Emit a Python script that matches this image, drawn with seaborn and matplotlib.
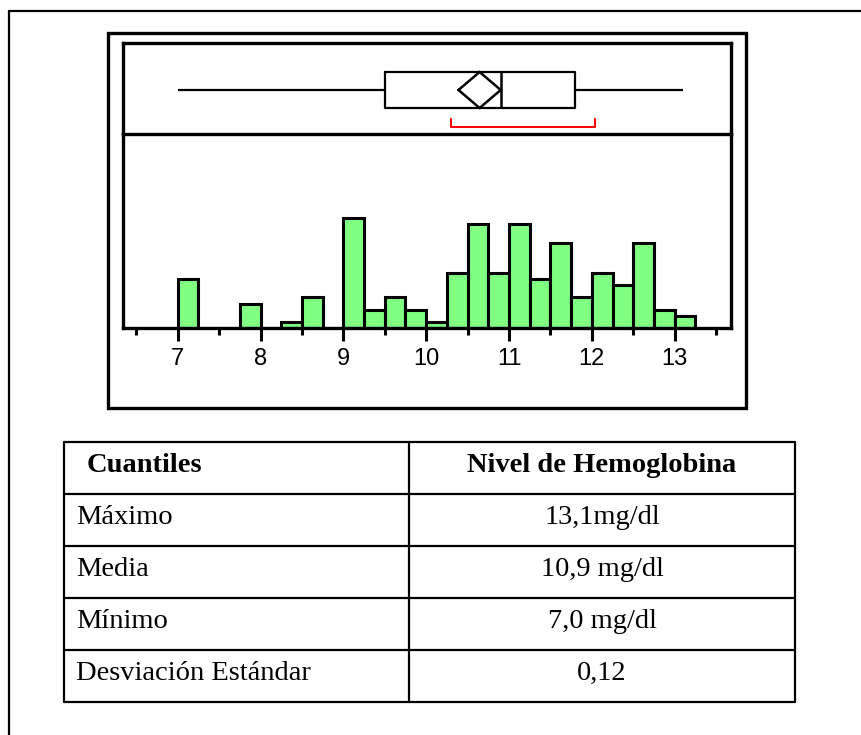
import numpy as np
import pandas as pd
import matplotlib
matplotlib.use("Agg")
import matplotlib.pyplot as plt
import seaborn as sns
from matplotlib.lines import Line2D
from matplotlib.patches import Rectangle

# ---------------- data ----------------
bin_starts = [7.0, 7.25, 7.5, 7.75, 8.0, 8.25, 8.5, 8.75, 9.0, 9.25, 9.5, 9.75, 10.0,
              10.25, 10.5, 10.75, 11.0, 11.25, 11.5, 11.75, 12.0, 12.25, 12.5, 12.75, 13.0]
bin_counts = [8, 0, 0, 4, 0, 1, 5, 0, 18, 3, 5, 3, 1, 9, 17, 9, 17, 8, 14, 5, 9, 7, 14, 3, 2]
bin_width = 0.25
five_number = [7.0, 9.5, 10.9, 11.8, 13.1]      # min, Q1, median, Q3, max
mean_ci = [10.39, 10.90]                         # mean diamond extent
shortest_half = [10.30, 12.04]                   # red bracket
major_ticks = [7, 8, 9, 10, 11, 12, 13]
minor_ticks = [6.5, 7.5, 8.5, 9.5, 10.5, 11.5, 12.5, 13.5]

table_header = ["Cuantiles", "Nivel de Hemoglobina"]
table_rows = ["Máximo", "Media", "Mínimo", "Desviación Estándar"]
table_values = ["13,1mg/dl", "10,9 mg/dl", "7,0 mg/dl", "0,12"]

# ---------------- figure ----------------
sns.set_style("white")
plt.rcParams["font.family"] = ["Liberation Sans", "DejaVu Sans"]
plt.rcParams["text.color"] = "black"
plt.rcParams["xtick.color"] = "black"
plt.rcParams["xtick.labelcolor"] = "black"

W, H = 861, 735
fig = plt.figure(figsize=(W / 100, H / 100), dpi=100)
fig.patch.set_facecolor("white")


def fx(x):
    return x / W


def fy(y):
    return 1 - y / H


# page frame (top + left)
fig.add_artist(Line2D([fx(9), fx(861)], [fy(11), fy(11)], color="black", lw=1.6))
fig.add_artist(Line2D([fx(9), fx(9)], [fy(11), fy(735)], color="black", lw=1.6))

# chart frame
fig.add_artist(Rectangle((fx(108), fy(408)), fx(746) - fx(108), fy(33) - fy(408),
                         fill=False, edgecolor="black", lw=2.4))

L, R = 123, 731
TOP, SEP, BASE = 43, 134, 328
ax_hist = fig.add_axes([fx(L), fy(BASE), fx(R) - fx(L), fy(SEP) - fy(BASE)])
ax_box = fig.add_axes([fx(L), fy(SEP), fx(R) - fx(L), fy(TOP) - fy(SEP)])
ax_box.patch.set_alpha(0)

# histogram
hist_df = pd.DataFrame({"value": [b + bin_width / 2 for b in bin_starts],
                        "count": bin_counts})
edges = bin_starts + [bin_starts[-1] + bin_width]
sns.histplot(data=hist_df, x="value", weights="count", bins=edges, ax=ax_hist,
             color="#80FF80", edgecolor="black", linewidth=2.2, alpha=1)
ax_hist.set_ylim(0, 31.8)
ax_hist.set_ylabel("")
ax_hist.set_yticks([])
for s in ["left", "right", "bottom"]:
    ax_hist.spines[s].set_visible(True)
    ax_hist.spines[s].set_linewidth(2.4)
    ax_hist.spines[s].set_color("black")
ax_hist.spines["top"].set_visible(False)

ax_hist.set_xlim(6.34, 13.68)
ax_hist.set_xticks(major_ticks)
ax_hist.set_xticklabels([str(t) for t in major_ticks])
ax_hist.set_xticks(minor_ticks, minor=True)
ax_hist.tick_params(axis="x", which="major", direction="out", length=9.5, width=2.2,
                    color="black", labelcolor="black", labelsize=17, pad=5, bottom=True)
ax_hist.tick_params(axis="x", which="minor", direction="out", length=5, width=2.2,
                    color="black", bottom=True)
ax_hist.set_xlabel("")

# box plot
sns.boxplot(x=five_number, ax=ax_box, whis=(0, 100), width=0.4, fill=False,
            color="black", linewidth=1.6, showcaps=False,
            boxprops=dict(color="black"), whiskerprops=dict(color="black"),
            medianprops=dict(color="black", linewidth=1.8))
m = (mean_ci[0] + mean_ci[1]) / 2
ax_box.plot([mean_ci[0], m, mean_ci[1], m, mean_ci[0]], [0, -0.2, 0, 0.2, 0],
            color="black", lw=1.8, solid_joinstyle="miter")
ax_box.plot([shortest_half[0], shortest_half[0], shortest_half[1], shortest_half[1]],
            [0.32, 0.41, 0.41, 0.32], color="#FF0000", lw=1.5)
ax_box.set_ylim(0.489, -0.522)
ax_box.set_xticks([])
ax_box.set_yticks([])
ax_box.set_xlabel("")
ax_box.set_ylabel("")
for s in ax_box.spines.values():
    s.set_visible(True)
    s.set_linewidth(2.4)
    s.set_color("black")
ax_box.tick_params(axis="x", which="both", bottom=False, labelbottom=False)
ax_box.set_xlim(6.34, 13.68)

# ---------------- table ----------------
tl, tdiv, tr = 64, 409, 795
rows_y = [442, 494, 546, 598, 650, 702]
lw_t = 1.6
for y in rows_y:
    fig.add_artist(Line2D([fx(tl), fx(tr)], [fy(y), fy(y)], color="black", lw=lw_t))
for x in [tl, tdiv, tr]:
    fig.add_artist(Line2D([fx(x), fx(x)], [fy(rows_y[0]), fy(rows_y[-1])], color="black", lw=lw_t))

serif = ["Liberation Serif", "DejaVu Serif"]
fs_t = 20.5
fig.text(fx(87), fy(rows_y[0] + 30), table_header[0], family=serif, fontsize=fs_t,
         fontweight="bold", ha="left", va="baseline", color="black")
fig.text(fx((tdiv + tr) / 2), fy(rows_y[0] + 30), table_header[1], family=serif,
         fontsize=fs_t, fontweight="bold", ha="center", va="baseline", color="black")
for i, (lab, val) in enumerate(zip(table_rows, table_values)):
    yb = rows_y[i + 1] + 30
    fig.text(fx(76), fy(yb), lab, family=serif, fontsize=fs_t, ha="left",
             va="baseline", color="black")
    fig.text(fx((tdiv + tr) / 2), fy(yb), val, family=serif, fontsize=fs_t,
             ha="center", va="baseline", color="black")

fig.savefig("out.png", dpi=100)
